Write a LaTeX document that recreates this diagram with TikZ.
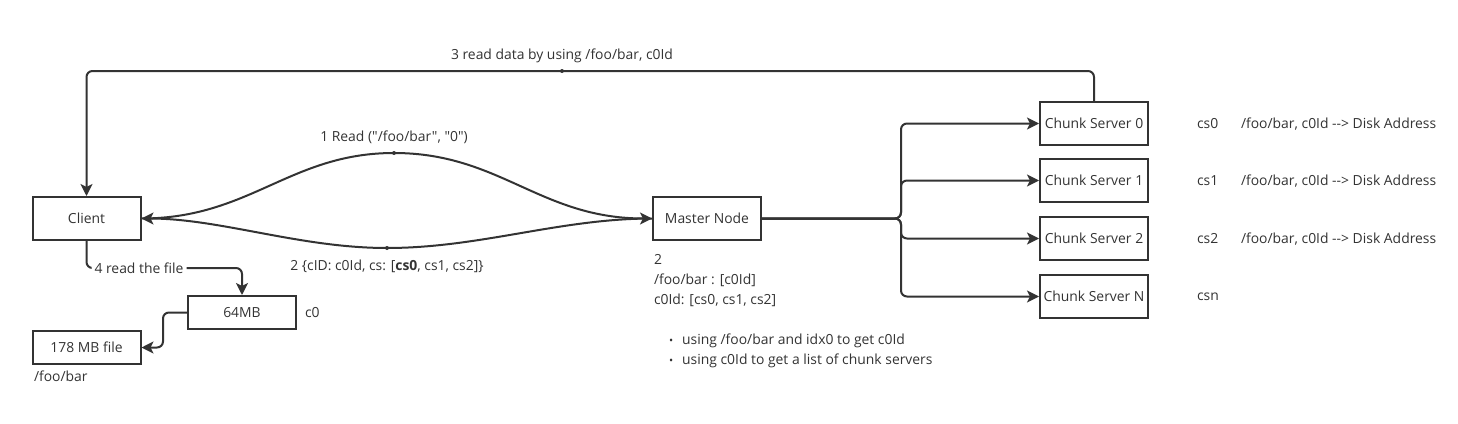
\documentclass[tikz,border=0pt]{standalone}
\usepackage{fontspec}
\setmainfont{Open Sans}[Ligatures=TeXOff]
\usetikzlibrary{positioning, arrows.meta}
\definecolor{ink}{HTML}{333333}

\begin{document}
\begin{tikzpicture}[x=1pt, y=-1pt, color=ink, line width=2pt,
        font=\fontsize{13.9}{17}\selectfont,
        >={Stealth[length=12pt, width=12pt, inset=3pt]}]
        % Define styles for shapes
        \tikzstyle{box} = [draw, minimum width=108pt, minimum height=43pt, inner sep=0pt]
        \tikzstyle{smallbox} = [box, minimum height=33pt]
        \tikzstyle{note} = [inner sep=0pt, anchor=west]
        \tikzstyle{midpt} = [circle, fill, inner sep=0pt, minimum size=4pt]
        \useasboundingbox (0,0) rectangle (1458,423);

        % Draw shapes
        \node[box] (client) at (86.5, 218.5) {Client};
        \node[box] (master) at (707, 218.5) {Master Node};
        \node[smallbox] (mb) at (242, 312.5) {64MB};
        \node[smallbox] (file) at (86.5, 347.5) {178 MB file};
        \foreach \i/\y in {0/123.5, 1/180.5, 2/238.5, N/296.5}
            \node[box] (cs\i) at (1094, \y) {Chunk Server \i};

        % Labels
        \node[note] (c0lbl) at (304, 313) {c0};
        \node[note] (filelbl) at (33, 376) {/foo/bar};
        \node[note] (cs0lbl) at (1196, 124) {cs0};
        \node[note] (cs1lbl) at (1196, 181) {cs1};
        \node[note] (cs2lbl) at (1196, 239) {cs2};
        \node[note] (csNlbl) at (1196, 297) {csn};
        \foreach \i/\y in {0/124, 1/181, 2/239}
            \node[note] (addr\i) at (1240, \y) {/foo/bar, c0Id --> Disk Address};
        \node[note, anchor=base west] (mnote1) at (653, 264) {2};
        \node[note, anchor=base west] (mnote2) at (653, 284) {/foo/bar : [c0Id]};
        \node[note, anchor=base west] (mnote3) at (653, 304) {c0Id: [cs0, cs1, cs2]};
        \node[note, anchor=base west] (item1) at (668, 344)
            {{\fontsize{11}{11}\selectfont\textbullet}\hspace{9pt}using /foo/bar and idx0 to get c0Id};
        \node[note, anchor=base west] (item2) at (668, 364)
            {{\fontsize{11}{11}\selectfont\textbullet}\hspace{9pt}using c0Id to get a list of chunk servers};

        % Draw arrows
        \coordinate (top) at (562, 71);
        \draw[->, rounded corners=6pt] (cs0.north) |- (top) -| (client.north);
        \node[midpt] (topdot) at (top) {};
        \node (lbl3) at (562, 56) {3 read data by using /foo/bar, c0Id};

        \coordinate (peak1) at (394, 153);
        \draw[->] (client.east) .. controls (250, 218.5) and (290, 153) .. (peak1)
            .. controls (500, 153) and (540, 218.5) .. (master.west);
        \node[midpt] (dot1) at (peak1) {};
        \node (lbl1) at (394, 137) {1 Read ("/foo/bar", "0")};

        \coordinate (peak2) at (387, 248);
        \draw[->] (master.west) .. controls (560, 218.5) and (480, 248) .. (peak2)
            .. controls (300, 248) and (220, 218.5) .. (client.east);
        \node[midpt] (dot2) at (peak2) {};
        \node (lbl2) at (387, 266) {2 \{cID: c0Id, cs: [\textbf{cs0}, cs1, cs2]\}};

        \coordinate (fork) at (901, 218.5);
        \foreach \i in {0, 1, 2, N}
            \draw[->, rounded corners=6pt] (master.east) -- (fork) |- (cs\i.west);

        \coordinate (turn4) at (139, 268);
        \draw[->, rounded corners=6pt] (client.south) |- (turn4)
            node[fill=white, inner sep=3pt] (lbl4) {4 read the file} -| (mb.north);
        \draw[->, rounded corners=6pt] (mb.west) -- ++(-24, 0) |- (file.east);
    \end{tikzpicture}
\end{document}
